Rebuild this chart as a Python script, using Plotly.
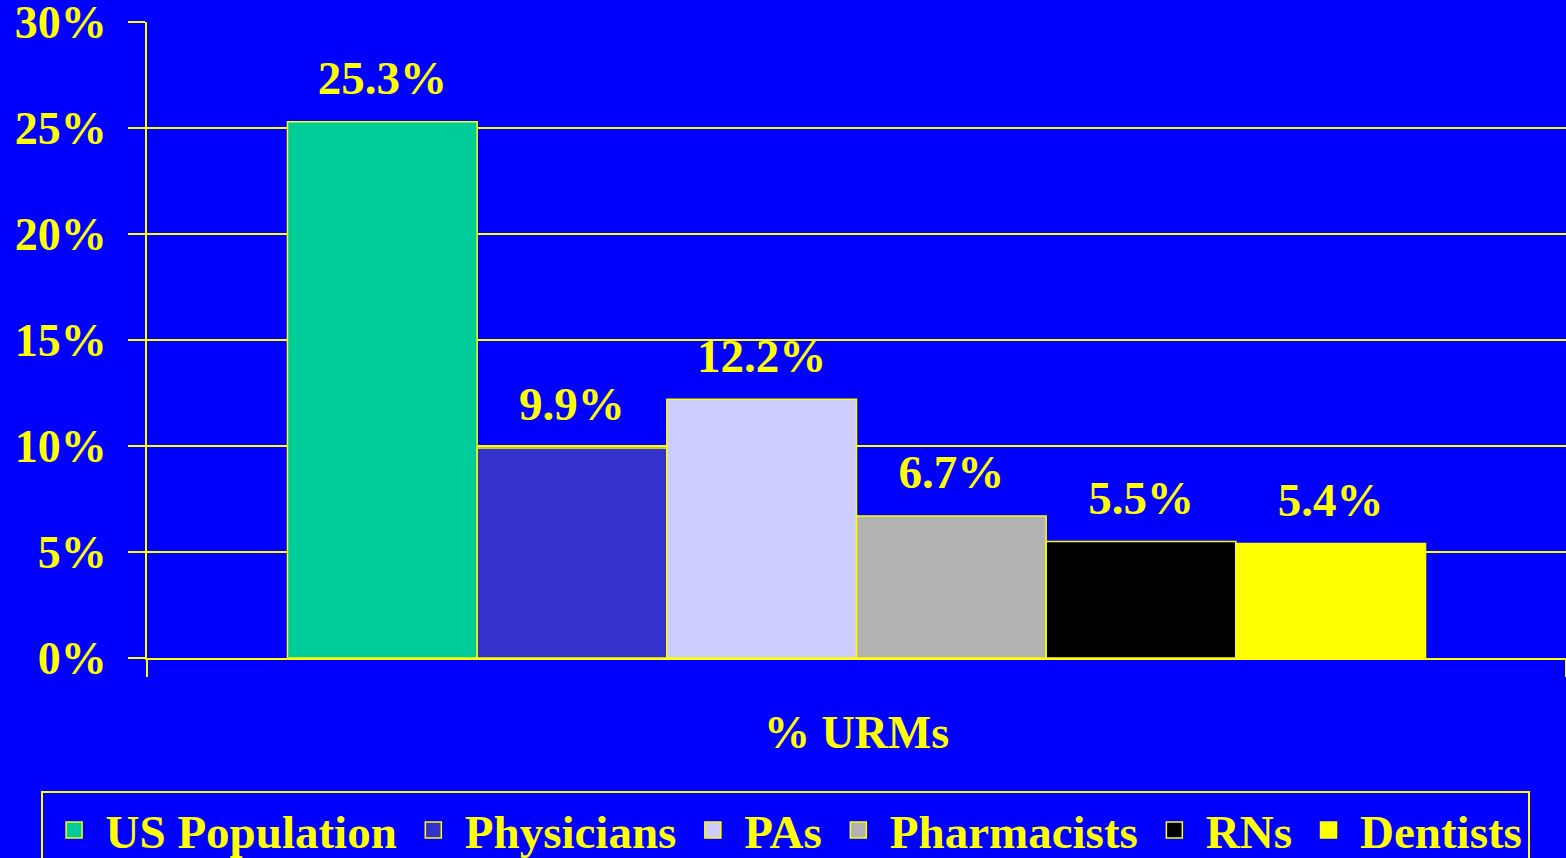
import plotly.graph_objects as go

# share of under-represented minorities by group
category = ["% URMs"]
groups = ["US Population", "Physicians", "PAs", "Pharmacists", "RNs", "Dentists"]
values = [25.3, 9.9, 12.2, 6.7, 5.5, 5.4]
colors = ["#00CC99", "#3333CC", "#CCCCFF", "#B2B2B2", "#000000", "#FFFF00"]
y_ticks = [0, 5, 10, 15, 20, 25, 30]
y_labels = ["0%", "5%", "10%", "15%", "20%", "25%", "30%"]

BLUE = "#0000FF"
YELLOW = "#FFFF00"
FONT = "Liberation Serif"

fig = go.Figure()
for name, val, col in zip(groups, values, colors):
    fig.add_trace(go.Bar(
        x=category, y=[val], name=name,
        marker=dict(color=col, line=dict(color=YELLOW, width=1.5)),
        offsetgroup=name, showlegend=False,
    ))

# value labels, pushed up by an invisible marker
for name, val in zip(groups, values):
    fig.add_trace(go.Scatter(
        x=category, y=[val], mode="markers+text",
        text=[f"{val:.1f}%"], textposition="top center",
        textfont=dict(family=FONT, size=47, color=YELLOW, weight="bold"),
        marker=dict(size=24, opacity=0),
        offsetgroup=name, showlegend=False, hoverinfo="skip",
        cliponaxis=False,
    ))

# legend entries (bigger square swatches than the bar legend icons)
for name, col in zip(groups, colors):
    fig.add_trace(go.Scatter(
        x=[None], y=[None], mode="markers", name=name,
        marker=dict(symbol="square", size=16, color=col,
                    line=dict(color=YELLOW, width=1.5)),
        offsetgroup=name, hoverinfo="skip",
    ))

fig.update_layout(
    width=1566, height=858,
    paper_bgcolor=BLUE, plot_bgcolor=BLUE,
    font=dict(family=FONT, color=YELLOW, size=46, weight="bold"),
    margin=dict(l=147, r=0, t=22, b=200, autoexpand=False),
    barmode="group", bargap=0.198, bargroupgap=0,
    scattermode="group", scattergap=0.198,
    showlegend=True,
    legend=dict(
        orientation="h", x=-0.075, xanchor="left", y=-0.209, yanchor="top",
        bgcolor=BLUE, bordercolor=YELLOW, borderwidth=2,
        font=dict(family=FONT, size=47, color=YELLOW, weight="bold"),
        traceorder="normal", itemsizing="trace", itemwidth=53,
    ),
)
fig.update_yaxes(
    range=[0, 30], tickmode="array", tickvals=y_ticks, ticktext=y_labels,
    showgrid=True, gridcolor=YELLOW, gridwidth=2,
    showline=True, linecolor=YELLOW, linewidth=2,
    ticks="outside", ticklen=17, tickwidth=2, tickcolor=YELLOW,
    tickfont=dict(family=FONT, size=46, color=YELLOW, weight="bold"),
    ticklabelstandoff=12, ticklabeloverflow="allow",
    zeroline=False, automargin=False,
)
fig.update_xaxes(
    showline=True, linecolor=YELLOW, linewidth=2,
    ticks="outside", ticklen=17, tickwidth=2, tickcolor=YELLOW,
    tickson="boundaries",
    tickfont=dict(family=FONT, size=46, color=YELLOW, weight="bold"),
    ticklabelstandoff=33, automargin=False,
)

fig.write_html("out.html", config={"displayModeBar": False},
               post_script="document.body.style.margin='0';")
